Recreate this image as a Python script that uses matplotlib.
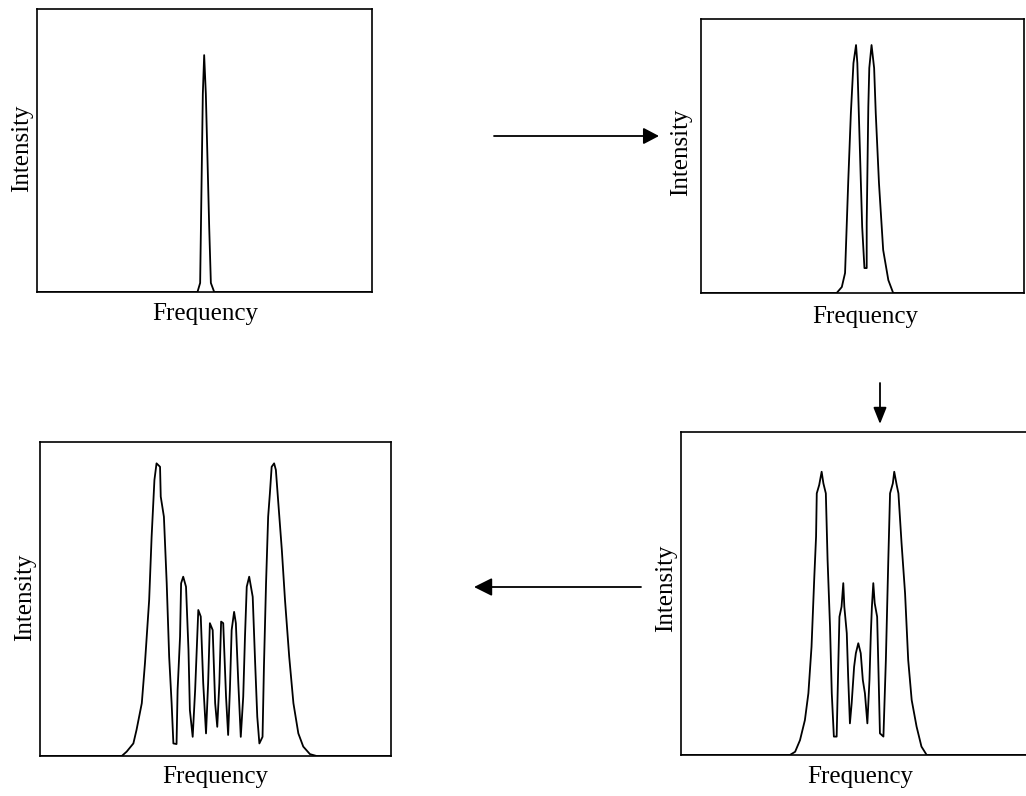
import matplotlib.pyplot as plt
from matplotlib.patches import FancyArrowPatch

plt.rcParams['font.family'] = ['Liberation Serif', 'DejaVu Serif']

W, H = 1026, 796

# single line
freq1 = [0, 47.9, 48.7, 49.5, 49.9, 50.4, 51.4, 51.9, 52.9, 100]
int1 = [0, 0, 3.2, 70.0, 83.7, 70.0, 23.0, 3.2, 0, 0]

# doublet
freq2 = [0, 42.0, 43.6, 44.6, 45.6, 46.4, 47.2, 48.0, 48.4, 49.9, 50.6, 51.3, 51.3,
         51.8, 52.1, 52.8, 53.6, 54.1, 55.1, 56.4, 58.0, 59.5, 100]
int2 = [0, 0, 2.2, 7.3, 41.2, 65.7, 83.9, 90.5, 83.9, 24.1, 9.1, 9.1, 25.5,
        67.9, 82.1, 90.5, 82.1, 65.7, 40.1, 15.7, 4.7, 0, 0]

# quartet-like pattern
freq4 = [0, 31.2, 32.7, 34.1, 35.5, 36.5, 37.4, 38.2, 38.7, 38.9, 39.6, 40.3, 40.8,
         41.5, 42.0, 42.7, 43.2, 43.8, 44.6, 45.1, 45.4, 46.0, 46.5, 46.8, 47.5,
         47.9, 48.4, 48.9, 49.6, 50.1, 50.8, 51.5, 52.1, 52.7, 53.4, 54.0, 54.4,
         54.7, 55.1, 55.5, 56.2, 56.6, 57.0, 58.0, 58.7, 59.4, 59.9, 60.7, 61.1,
         61.8, 62.3, 63.2, 64.2, 65.1, 66.1, 67.5, 68.9, 70.4, 100]
int4 = [0, 0, 1.0, 4.6, 10.8, 19.1, 33.5, 55.2, 67.6, 81.0, 83.6, 87.7, 84.1,
        81.0, 60.4, 39.7, 19.1, 5.7, 5.7, 29.4, 42.8, 45.9, 53.2, 45.9, 37.7,
        24.2, 9.8, 16.0, 27.3, 31.5, 34.6, 31.5, 23.2, 19.1, 9.8, 23.2, 37.7,
        45.9, 53.2, 47.0, 42.8, 25.2, 6.7, 5.7, 29.4, 60.4, 81.0, 84.1, 87.7,
        83.6, 81.0, 65.5, 50.1, 29.4, 17.0, 8.8, 2.6, 0, 0]

# multiplet
freq3 = [0, 23.3, 24.7, 26.6, 27.5, 29.0, 29.9, 31.1, 31.8, 32.6, 33.2, 34.2, 34.4,
         35.3, 36.1, 36.8, 37.5, 38.0, 38.9, 39.2, 39.9, 40.2, 40.8, 41.6, 42.3,
         42.7, 43.5, 44.2, 44.8, 45.1, 45.8, 46.5, 47.3, 47.9, 48.4, 49.2, 49.9,
         50.5, 51.1, 51.6, 52.2, 53.0, 53.6, 54.1, 54.6, 55.3, 55.8, 56.5, 57.2,
         57.9, 58.4, 58.9, 59.6, 60.6, 61.3, 61.9, 62.5, 63.4, 63.8, 64.4, 65.0,
         65.5, 66.0, 66.7, 67.2, 67.9, 68.9, 69.8, 71.0, 72.2, 73.6, 75.0, 76.9,
         78.8, 100]
int3 = [0, 0, 1.4, 4.0, 8.3, 16.8, 29.5, 49.7, 69.8, 87.9, 93.2, 92.1, 82.6,
        76.2, 55.0, 31.6, 16.8, 4.0, 3.8, 21.0, 38.0, 55.0, 57.1, 53.9, 33.8,
        14.6, 6.1, 21.0, 38.0, 46.5, 44.4, 23.2, 7.2, 23.2, 42.3, 40.1, 16.8,
        9.3, 23.2, 42.8, 42.3, 18.9, 6.7, 21.0, 40.1, 45.9, 42.3, 23.2, 6.1,
        18.9, 38.0, 53.9, 57.1, 50.7, 29.5, 12.5, 4.0, 6.1, 28.4, 55.0, 76.2,
        83.7, 92.1, 93.2, 91.1, 80.5, 65.6, 49.7, 31.6, 16.8, 7.2, 3.0, 0.6,
        0, 0]


def box(l, t, r, b):
    return [l / W, 1 - b / H, (r - l) / W, (b - t) / H]


def spectrum(fig, rect, freq, inten):
    ax = fig.add_axes(rect)
    ax.plot(freq, inten, color='black', lw=1.3)
    ax.set_xlim(0, 100)
    ax.set_ylim(0, 100)
    ax.set_xticks([])
    ax.set_yticks([])
    for s in ax.spines.values():
        s.set_linewidth(1.2)
    return ax


def label(fig, x, y, txt, rot=0):
    fig.text(x / W, 1 - y / H, txt, ha='center', va='center', rotation=rot,
             fontsize=18)


def arrow(fig, x0, y0, x1, y1, style):
    a = FancyArrowPatch((x0 / W, 1 - y0 / H), (x1 / W, 1 - y1 / H),
                        transform=fig.transFigure, arrowstyle=style,
                        mutation_scale=10, color='black', lw=1.3,
                        shrinkA=0, shrinkB=0)
    fig.patches.append(a)


fig = plt.figure(figsize=(W / 100, H / 100), dpi=100)

spectrum(fig, box(37, 9, 372, 292), freq1, int1)
spectrum(fig, box(701, 19, 1024, 293), freq2, int2)
spectrum(fig, box(40, 442, 391, 756), freq3, int3)
spectrum(fig, box(681, 432, 1030, 755), freq4, int4)

label(fig, 205, 314, 'Frequency')
label(fig, 865, 317, 'Frequency')
label(fig, 215, 777, 'Frequency')
label(fig, 860, 777, 'Frequency')
label(fig, 22, 148, 'Intensity', 90)
label(fig, 681, 152, 'Intensity', 90)
label(fig, 25, 597, 'Intensity', 90)
label(fig, 666, 588, 'Intensity', 90)

arrow(fig, 494, 136, 659, 136, '-|>,head_length=0.95,head_width=0.5')
arrow(fig, 641, 587, 474, 587, '-|>,head_length=1.1,head_width=0.55')
arrow(fig, 880, 383, 880, 424, '-|>,head_length=1.0,head_width=0.4')

fig.savefig('out.png', dpi=100)
